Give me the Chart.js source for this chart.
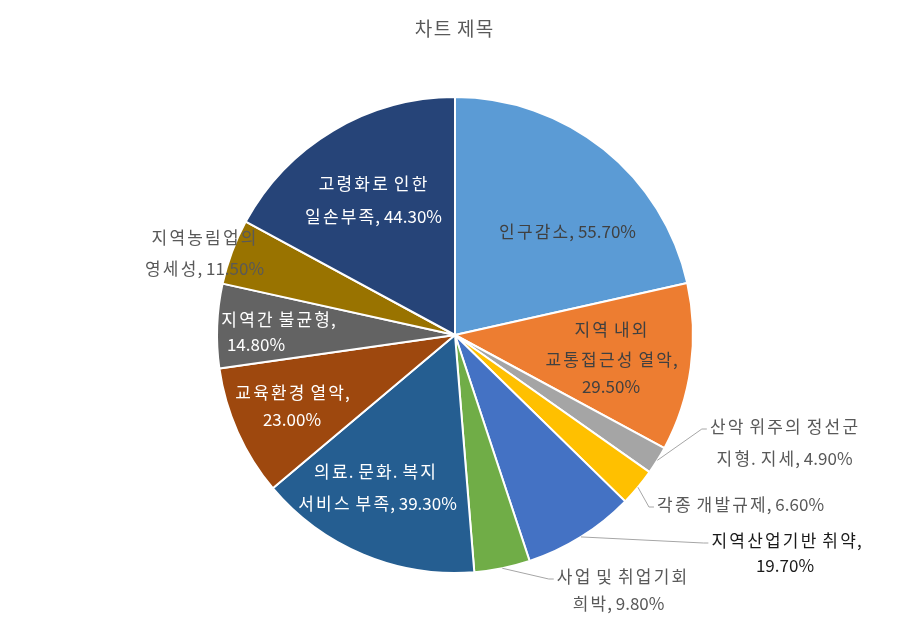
<!DOCTYPE html>
<html>
<head>
<meta charset="utf-8">
<script src="https://cdn.jsdelivr.net/npm/chart.js@4.4.1/dist/chart.umd.min.js"></script>
<style>
  html, body { margin: 0; padding: 0; background: #fff; }
  #wrap { width: 907px; height: 624px; position: relative; }
</style>
</head>
<body>
<div id="wrap"><canvas id="myChart"></canvas></div>
<script>
const chartTitle = "차트 제목";
const categories = [
  "인구감소",
  "지역 내외 교통접근성 열악",
  "산악 위주의 정선군 지형. 지세",
  "각종 개발규제",
  "지역산업기반 취약",
  "사업 및 취업기회 희박",
  "의료. 문화. 복지 서비스 부족",
  "교육환경 열악",
  "지역간 불균형",
  "지역농림업의 영세성",
  "고령화로 인한 일손부족"
];
const values = [55.7, 29.5, 4.9, 6.6, 19.7, 9.8, 39.3, 23.0, 14.8, 11.5, 44.3];
const sliceColors = [
  "#5B9BD5", "#ED7D31", "#A5A5A5", "#FFC000", "#4472C4", "#70AD47",
  "#255E91", "#9E480E", "#636363", "#997300", "#264478"
];

// label layout: words per line, line centres relative to pie centre (px), text colour, leader
const labelLayout = [
  { words: [3], xs: [112], ys: [-103], color: "#404040" },
  { words: [2, 2, 1], xs: [156, 156, 156], ys: [-5, 25, 52], color: "#404040" },
  { words: [3, 3], xs: [329, 329], ys: [92, 124], color: "#595959", leader: true },
  { words: [3], xs: [285], ys: [170], color: "#595959", leader: true },
  { words: [2, 1], xs: [331, 330], ys: [206, 231], color: "#1a1a1a", leader: true },
  { words: [3, 2], xs: [167, 163], ys: [242, 269], color: "#595959", leader: true },
  { words: [3, 3], xs: [-80, -78], ys: [137, 169], color: "#ffffff" },
  { words: [2, 1], xs: [-163, -163], ys: [58, 85], color: "#ffffff" },
  { words: [2, 1], xs: [-177, -199], ys: [-15, 10], color: "#ffffff" },
  { words: [1, 2], xs: [-251, -251], ys: [-97, -66], color: "#595959" },
  { words: [2, 2], xs: [-82, -82], ys: [-151, -118], color: "#ffffff" }
];

const fontFamily = '"Noto Sans CJK KR", "Noto Sans", sans-serif';
const hangulGap = 2.2;

function isHangul(ch) {
  const c = ch.charCodeAt(0);
  return c >= 0xAC00 && c <= 0xD7A3;
}
function lineWidth(ctx, text, gap) {
  let w = 0;
  for (const ch of text) w += ctx.measureText(ch).width + (isHangul(ch) ? gap : 0);
  return w;
}
// draws one line centred at cx, with a little extra room after Hangul glyphs
function drawLine(ctx, text, cx, y, gap) {
  let x = cx - lineWidth(ctx, text, gap) / 2;
  ctx.textAlign = "left";
  for (const ch of text) {
    const w = ctx.measureText(ch).width;
    const extra = isHangul(ch) ? gap : 0;
    ctx.fillText(ch, x + extra / 2, y);
    x += w + extra;
  }
}

const pieLabels = {
  id: "pieLabels",
  afterDatasetsDraw(chart) {
    const ctx = chart.ctx;
    const arcs = chart.getDatasetMeta(0).data;
    ctx.save();
    ctx.font = "17px " + fontFamily;
    ctx.textBaseline = "middle";
    arcs.forEach((arc, i) => {
      const p = arc.getProps(["x", "y", "startAngle", "endAngle", "outerRadius"], true);
      const lay = labelLayout[i];
      const words = (categories[i] + ", " + values[i].toFixed(2) + "%").split(" ");
      const lines = [];
      let k = 0;
      lay.words.forEach(n => { lines.push(words.slice(k, k + n).join(" ")); k += n; });
      if (lay.leader) {
        const mid = (p.startAngle + p.endAngle) / 2;
        const sx = p.x + Math.cos(mid) * p.outerRadius;
        const sy = p.y + Math.sin(mid) * p.outerRadius;
        const w = lineWidth(ctx, lines[0], hangulGap);
        const tx = p.x + lay.xs[0] - w / 2 - 2;
        const ty = p.y + lay.ys[0] + 2;
        ctx.strokeStyle = "#A6A6A6";
        ctx.lineWidth = 1;
        ctx.beginPath();
        ctx.moveTo(sx, sy);
        ctx.lineTo(tx - 5, ty);
        ctx.lineTo(tx, ty);
        ctx.stroke();
      }
      ctx.fillStyle = lay.color;
      lines.forEach((ln, j) => drawLine(ctx, ln, p.x + lay.xs[j], p.y + lay.ys[j], hangulGap));
    });
    // title
    ctx.fillStyle = "#595959";
    ctx.font = "19px " + fontFamily;
    drawLine(ctx, chartTitle, 454, 29, 1.5);
    ctx.restore();
  }
};

const ctx = document.getElementById("myChart").getContext("2d");
const chart = new Chart(ctx, {
  type: "pie",
  data: {
    labels: categories,
    datasets: [{
      data: values,
      backgroundColor: sliceColors,
      borderColor: "#ffffff",
      borderWidth: 2
    }]
  },
  options: {
    responsive: true,
    maintainAspectRatio: false,
    animation: false,
    layout: { padding: { top: 96, bottom: 50, left: 3, right: 0 } },
    plugins: {
      legend: { display: false },
      title: { display: false },
      tooltip: { enabled: false }
    }
  },
  plugins: [pieLabels]
});
</script>
</body>
</html>
